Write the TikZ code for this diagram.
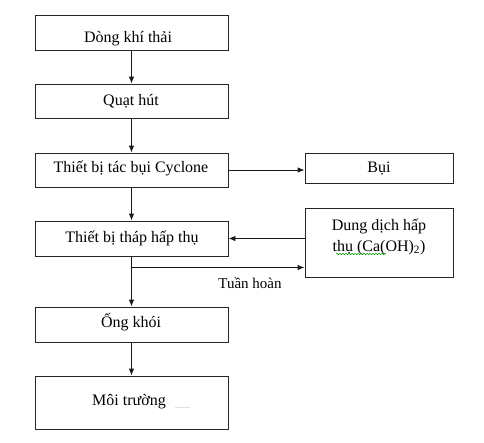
\documentclass[tikz,border=0pt]{standalone}
\usepackage{fontspec}
\setmainfont{Liberation Serif}
\usetikzlibrary{arrows.meta,decorations.pathmorphing}
\begin{document}
\begin{tikzpicture}[x=1pt,y=1pt,
  box/.style={draw=black!85,line width=0.9pt,inner sep=0pt,anchor=center},
  lbl/.style={inner sep=0pt,anchor=base,font=\fontsize{16}{19}\selectfont},
  arr/.style={draw=black!90,line width=0.9pt,-{Latex[length=7pt,width=5.5pt]}},
  ln/.style={draw=black!90,line width=0.9pt}]
\useasboundingbox (0,0) rectangle (484,-442);
% left column boxes
\node[box,minimum width=193,minimum height=35] (b1) at (131.5,-32.5) {};
\node[box,minimum width=193,minimum height=34] (b2) at (131.5,-101) {};
\node[box,minimum width=193,minimum height=34] (b3) at (131.5,-170) {};
\node[box,minimum width=193,minimum height=35] (b4) at (131.5,-238.5) {};
\node[box,minimum width=193,minimum height=35] (b5) at (131.5,-324.5) {};
\node[box,minimum width=193,minimum height=53] (b6) at (131.5,-402.5) {};
% right boxes
\node[box,minimum width=148,minimum height=30] (bui) at (379,-168) {};
\node[box,minimum width=148,minimum height=69] (dd) at (379,-242.5) {};
% texts
\node[lbl] (t1) at (128,-42.5) {Dòng khí thải};
\node[lbl] (t2) at (131,-105) {Quạt hút};
\node[lbl] (t3) at (131,-172.5) {Thiết bị tác bụi Cyclone};
\node[lbl] (t4) at (132,-242.3) {Thiết bị tháp hấp thụ};
\node[lbl] (t5) at (131,-327.7) {Ống khói};
\node[lbl] (t6) at (129,-405.7) {Môi trường};
\node[lbl] (tbui) at (379,-172.5) {Bụi};
\node[lbl] (tdd1) at (379,-230) {Dung dịch hấp};
\node[lbl] (tdd2) at (379,-251) {thụ (Ca(OH)\textsubscript{2})};
\node[lbl,font=\fontsize{15}{18}\selectfont] (th) at (250,-288) {Tuần hoàn};
% connectors
\draw[arr] (b1.south) -- (b2.north);
\draw[arr] (b2.south) -- (b3.north);
\draw[arr] (b3.south) -- (b4.north);
\draw[arr] (b4.south) -- (b5.north);
\draw[arr] (b5.south) -- (b6.north);
\draw[arr] (b3.east) -- (bui.west |- b3.east);
\draw[arr] (dd.west |- b4.east) -- (b4.east);
\coordinate (rc) at (131.5,-267.5);
\draw[arr] (rc) -- (dd.west |- rc);
% spell-check underline and stray mark
\draw[green!60!black,line width=0.5pt,decorate,decoration={snake,amplitude=0.7pt,segment length=3pt}] (336,-254) -- (386,-254);
\draw[black!12,line width=0.5pt] (175,-407) -- (190,-407);
\end{tikzpicture}
\end{document}
